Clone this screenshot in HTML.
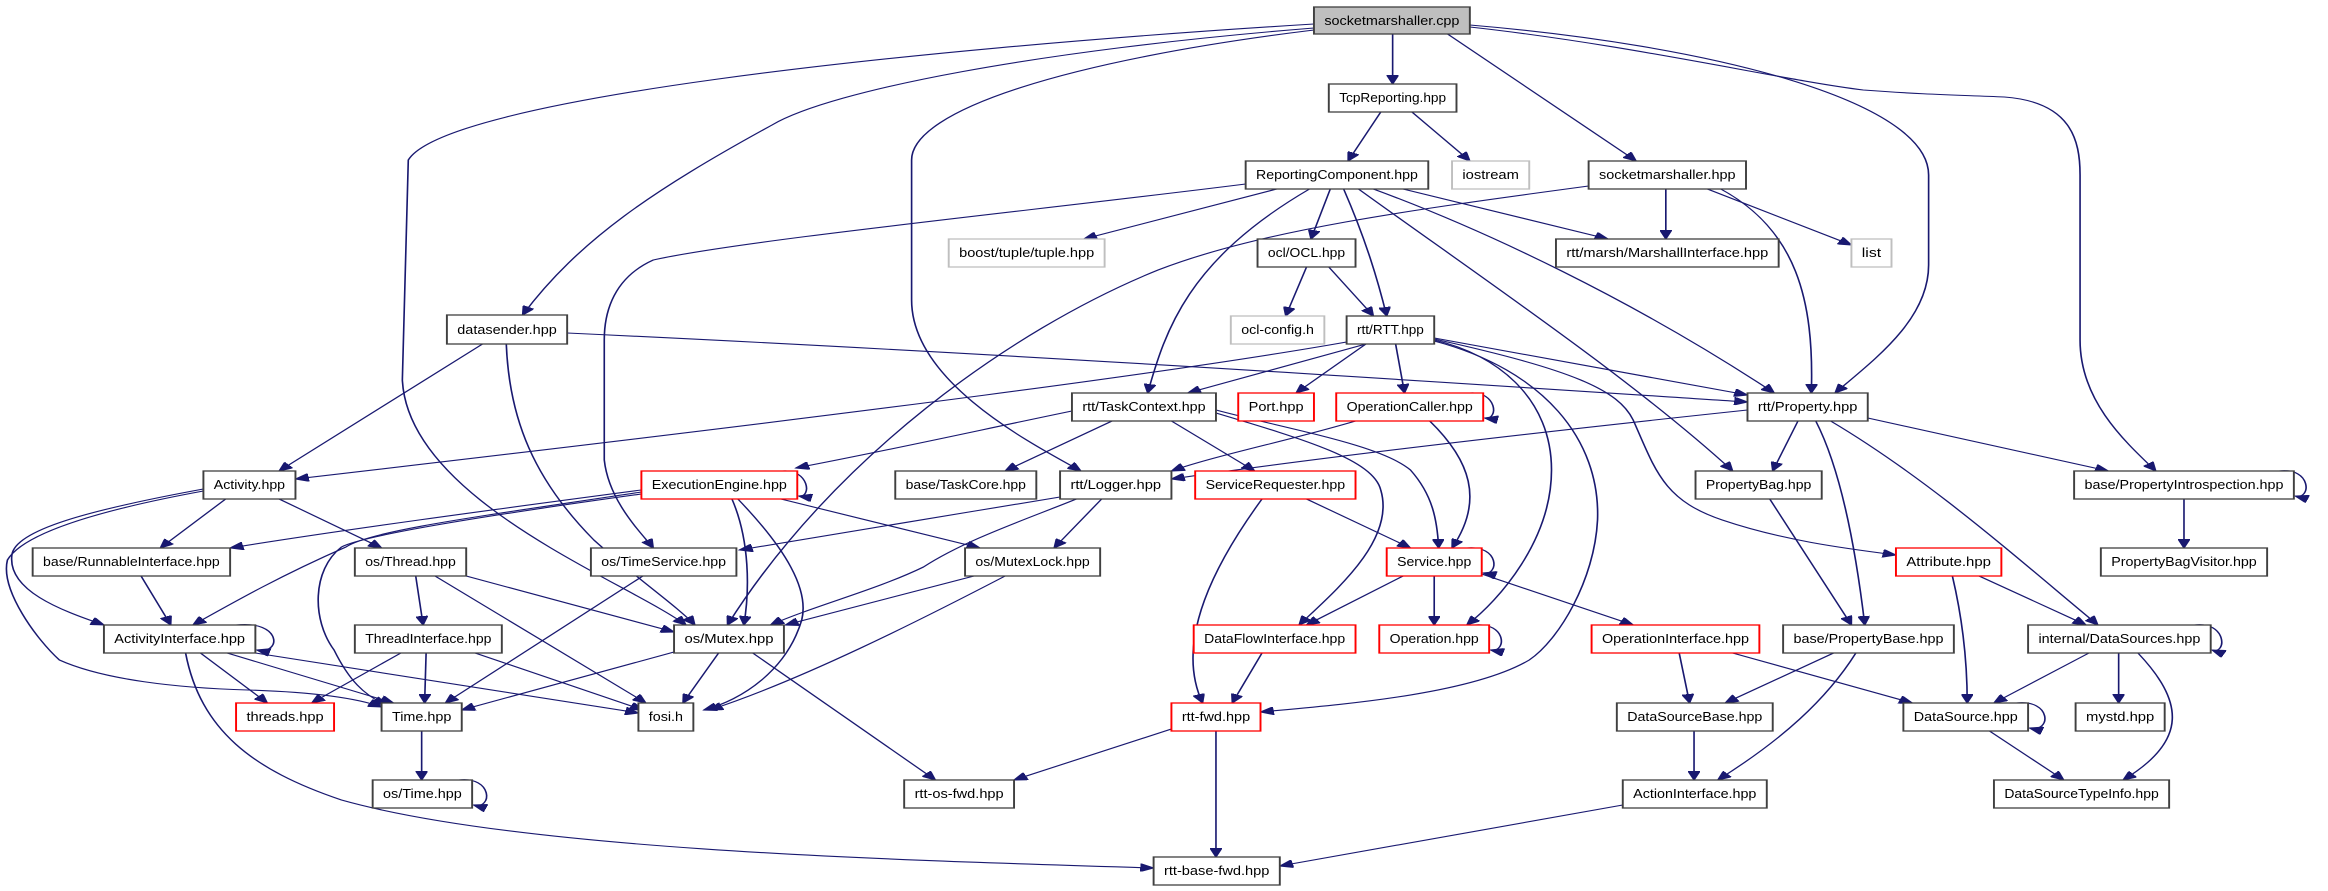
<!DOCTYPE html>
<html><head><meta charset="utf-8"><style>
html,body{margin:0;padding:0;background:#fff;}
svg{display:block;}
text{font-family:"Liberation Sans",sans-serif;font-size:13px;fill:#000;}
.e{fill:none;stroke:#191970;stroke-width:1.1;}
.n{fill:#fff;stroke:#404040;stroke-width:1.3;}
.r{fill:#fff;stroke:#ff0000;stroke-width:1.3;}
.g{fill:#fff;stroke:#bfbfbf;stroke-width:1.3;}
.s{fill:#bfbfbf;stroke:#404040;stroke-width:1.3;}
</style></head><body>
<svg width="2328" height="891" viewBox="0 0 1568 891" preserveAspectRatio="none" xmlns="http://www.w3.org/2000/svg">
<defs>
<marker id="a" markerUnits="userSpaceOnUse" markerWidth="10" markerHeight="8" refX="9" refY="4" orient="auto">
<path d="M0,0 L9,4 L0,8 z" fill="#191970" stroke="#191970"/>
</marker>
</defs>
<g marker-end="url(#a)">
<!-- socketmarshaller.cpp -->
<path class="e" d="M938,34 L938,84"/>
<path class="e" d="M885,28 C700,50 560,90 520,125 C440,190 390,240 352,315"/>
<path class="e" d="M885,24 C600,50 300,100 275,160 L271,380 C275,500 420,580 462,625"/>
<path class="e" d="M885,30 C720,60 614,110 614,160 L614,300 C614,380 690,440 728,471"/>
<path class="e" d="M975,34 L1102,161"/>
<path class="e" d="M990,25 C1150,45 1299,100 1299,175 L1299,265 C1299,320 1262,360 1236,393"/>
<path class="e" d="M990,27 C1100,45 1200,80 1255,90 C1300,95 1320,95 1350,97 C1395,102 1401,140 1401,175 L1401,340 C1401,400 1430,440 1452,471"/>
<!-- TcpReporting -->
<path class="e" d="M930,112 L908,161"/>
<path class="e" d="M951,112 L990,161"/>
<!-- ReportingComponent -->
<path class="e" d="M860,189 L730,239"/>
<path class="e" d="M896,189 L883,239"/>
<path class="e" d="M905,189 C920,240 928,280 934,316"/>
<path class="e" d="M882,189 C800,260 785,330 773,393"/>
<path class="e" d="M839,184 C700,210 500,240 440,260 C410,280 407,320 407,340 L407,460 C410,500 430,530 440,548"/>
<path class="e" d="M945,189 L1083,239"/>
<path class="e" d="M925,189 C1000,230 1100,300 1195,393"/>
<path class="e" d="M915,189 C1000,280 1100,380 1167,471"/>
<!-- socketmarshaller.hpp -->
<path class="e" d="M1122,189 L1122,239"/>
<path class="e" d="M1150,189 L1247,245"/>
<path class="e" d="M1159,189 C1210,230 1222,300 1220,393"/>
<path class="e" d="M1070,186 C950,210 850,230 780,270 C680,330 560,460 490,625"/>
<!-- ocl -->
<path class="e" d="M880,267 L866,316"/>
<path class="e" d="M895,267 L925,316"/>
<!-- datasender -->
<path class="e" d="M325,344 L188,471"/>
<path class="e" d="M341,344 C343,420 360,480 400,540 C430,580 455,605 468,625"/>
<path class="e" d="M382,333 C700,355 1000,385 1177,402"/>
<!-- RTT -->
<path class="e" d="M907,342 C800,370 600,410 199,479"/>
<path class="e" d="M920,344 L800,393"/>
<path class="e" d="M920,344 L873,393"/>
<path class="e" d="M940,344 L946,393"/>
<path class="e" d="M966,338 L1177,395"/>
<path class="e" d="M966,340 C1010,355 1045,400 1045,470 C1045,540 1010,600 988,625"/>
<path class="e" d="M966,341 C1040,370 1078,440 1076,520 C1074,580 1050,640 1030,660 C990,695 900,705 849,712"/>
<path class="e" d="M966,339 C1060,370 1090,390 1100,420 C1115,470 1120,500 1160,520 C1200,540 1240,548 1277,555"/>
<!-- TaskContext -->
<path class="e" d="M722,411 C660,430 600,450 536,468"/>
<path class="e" d="M749,421 L677,471"/>
<path class="e" d="M789,421 L845,471"/>
<path class="e" d="M819,410 C870,430 930,445 950,470 C965,495 968,520 969,548"/>
<path class="e" d="M819,413 C880,440 925,460 930,490 C940,540 900,590 875,625"/>
<!-- OperationCaller -->
<path class="e" d="M913,421 C870,440 820,455 789,471"/>
<path class="e" d="M963,421 C990,460 1000,500 978,548"/>
<!-- Property -->
<path class="e" d="M1177,410 C1050,430 900,455 789,479"/>
<path class="e" d="M1211,421 L1194,471"/>
<path class="e" d="M1223,421 C1240,470 1250,550 1256,625"/>
<path class="e" d="M1233,421 C1300,480 1360,560 1413,625"/>
<path class="e" d="M1258,418 L1420,471"/>
<!-- PropertyBag -->
<path class="e" d="M1192,499 L1247,625"/>
<!-- PropertyIntrospection -->
<path class="e" d="M1471,499 L1471,548"/>
<!-- ServiceRequester -->
<path class="e" d="M850,499 C820,560 790,640 810,703"/>
<path class="e" d="M880,499 L950,548"/>
<!-- Service -->
<path class="e" d="M945,576 L880,625"/>
<path class="e" d="M966,576 L966,625"/>
<path class="e" d="M998,574 L1100,625"/>
<!-- DataFlowInterface -->
<path class="e" d="M850,653 L830,703"/>
<!-- rtt-fwd -->
<path class="e" d="M789,729 L683,780"/>
<path class="e" d="M819,731 L819,857"/>
<!-- Logger -->
<path class="e" d="M714,497 C640,515 560,535 498,550"/>
<path class="e" d="M742,499 L710,548"/>
<path class="e" d="M725,499 C690,520 650,540 622,567 C590,590 550,605 519,625"/>
<!-- ExecutionEngine -->
<path class="e" d="M493,499 C505,540 505,590 501,625"/>
<path class="e" d="M497,499 C530,550 545,590 540,620 C530,670 500,700 474,710"/>
<path class="e" d="M526,499 L660,548"/>
<path class="e" d="M432,490 C330,510 230,530 155,548"/>
<path class="e" d="M432,492 C330,515 250,530 233,547 C190,575 160,600 130,625"/>
<path class="e" d="M432,494 C330,515 245,535 230,547 C210,570 210,620 225,650 C235,680 245,695 260,705"/>
<!-- MutexLock -->
<path class="e" d="M656,576 L529,625"/>
<path class="e" d="M677,576 C620,620 540,680 478,710"/>
<!-- os/Mutex -->
<path class="e" d="M484,653 L460,703"/>
<path class="e" d="M507,653 L630,780"/>
<path class="e" d="M454,652 L311,710"/>
<!-- TimeService -->
<path class="e" d="M433,576 L300,703"/>
<!-- os/Thread -->
<path class="e" d="M314,576 L454,632"/>
<path class="e" d="M293,576 L435,703"/>
<path class="e" d="M280,576 L285,625"/>
<!-- ThreadInterface -->
<path class="e" d="M270,653 L210,703"/>
<path class="e" d="M287,653 L286,703"/>
<path class="e" d="M320,653 L433,710"/>
<!-- ActivityInterface -->
<path class="e" d="M135,653 L180,703"/>
<path class="e" d="M153,653 L265,703"/>
<path class="e" d="M172,653 L430,713"/>
<path class="e" d="M125,653 C135,730 170,770 230,800 C350,850 600,860 777,868"/>
<!-- Activity -->
<path class="e" d="M152,499 L108,548"/>
<path class="e" d="M188,499 L257,548"/>
<path class="e" d="M137,489 C60,510 10,530 8,555 C5,590 40,610 70,625"/>
<path class="e" d="M137,491 C60,512 15,535 5,560 C0,590 25,640 40,660 C70,680 120,688 167,690 C210,692 240,698 257,707"/>
<!-- RunnableInterface -->
<path class="e" d="M95,576 L115,625"/>
<!-- Time -->
<path class="e" d="M284,731 L284,780"/>
<!-- right bottom -->
<path class="e" d="M1093,805 L862,866"/>
<path class="e" d="M1131,653 L1138,703"/>
<path class="e" d="M1167,653 L1288,703"/>
<path class="e" d="M1235,653 L1162,703"/>
<path class="e" d="M1250,653 C1230,700 1200,740 1157,780"/>
<path class="e" d="M1141,731 L1141,780"/>
<path class="e" d="M1315,576 C1322,620 1325,660 1325,703"/>
<path class="e" d="M1333,576 L1405,625"/>
<path class="e" d="M1407,653 L1343,703"/>
<path class="e" d="M1427,653 L1427,703"/>
<path class="e" d="M1440,653 C1470,700 1475,740 1430,780"/>
<path class="e" d="M1340,731 L1390,780"/>
<!-- self loops -->
<path class="e" d="M990,393 C1008,391 1010,420 1000,418"/>
<path class="e" d="M527,471 C545,469 547,498 538,496"/>
<path class="e" d="M159,625 C190,620 190,655 173,650"/>
<path class="e" d="M988,548 C1010,545 1010,576 999,573"/>
<path class="e" d="M993,625 C1015,622 1015,653 1004,650"/>
<path class="e" d="M309,780 C332,776 332,810 319,805"/>
<path class="e" d="M1535,471 C1557,467 1557,500 1546,496"/>
<path class="e" d="M1478,625 C1500,621 1500,655 1490,650"/>
<path class="e" d="M1358,703 C1382,699 1382,733 1367,728"/>
</g>
<!-- nodes -->
<g>
<rect class="s" x="885" y="7" width="105" height="27"/><text x="937.5" y="25" text-anchor="middle" textLength="91" lengthAdjust="spacingAndGlyphs">socketmarshaller.cpp</text>
<rect class="n" x="895" y="84" width="86" height="28"/><text x="938" y="102" text-anchor="middle" textLength="72" lengthAdjust="spacingAndGlyphs">TcpReporting.hpp</text>
<rect class="n" x="839" y="161" width="123" height="28"/><text x="900.5" y="179" text-anchor="middle" textLength="109" lengthAdjust="spacingAndGlyphs">ReportingComponent.hpp</text>
<rect class="g" x="978" y="161" width="52" height="28"/><text x="1004" y="179" text-anchor="middle" textLength="38" lengthAdjust="spacingAndGlyphs">iostream</text>
<rect class="n" x="1070" y="161" width="106" height="28"/><text x="1123" y="179" text-anchor="middle" textLength="92" lengthAdjust="spacingAndGlyphs">socketmarshaller.hpp</text>
<rect class="g" x="639" y="239" width="105" height="28"/><text x="691.5" y="257" text-anchor="middle" textLength="91" lengthAdjust="spacingAndGlyphs">boost/tuple/tuple.hpp</text>
<rect class="n" x="847" y="239" width="66" height="28"/><text x="880" y="257" text-anchor="middle" textLength="52" lengthAdjust="spacingAndGlyphs">ocl/OCL.hpp</text>
<rect class="n" x="1048" y="239" width="150" height="28"/><text x="1123" y="257" text-anchor="middle" textLength="136" lengthAdjust="spacingAndGlyphs">rtt/marsh/MarshallInterface.hpp</text>
<rect class="g" x="1247" y="239" width="27" height="28"/><text x="1260.5" y="257" text-anchor="middle" textLength="13" lengthAdjust="spacingAndGlyphs">list</text>
<rect class="n" x="301" y="315" width="81" height="29"/><text x="341.5" y="334" text-anchor="middle" textLength="67" lengthAdjust="spacingAndGlyphs">datasender.hpp</text>
<rect class="g" x="829" y="316" width="63" height="28"/><text x="860.5" y="334" text-anchor="middle" textLength="49" lengthAdjust="spacingAndGlyphs">ocl-config.h</text>
<rect class="n" x="907" y="316" width="59" height="28"/><text x="936.5" y="334" text-anchor="middle" textLength="45" lengthAdjust="spacingAndGlyphs">rtt/RTT.hpp</text>
<rect class="n" x="722" y="393" width="97" height="28"/><text x="770.5" y="411" text-anchor="middle" textLength="83" lengthAdjust="spacingAndGlyphs">rtt/TaskContext.hpp</text>
<rect class="r" x="834" y="393" width="51" height="28"/><text x="859.5" y="411" text-anchor="middle" textLength="37" lengthAdjust="spacingAndGlyphs">Port.hpp</text>
<rect class="r" x="900" y="393" width="99" height="28"/><text x="949.5" y="411" text-anchor="middle" textLength="85" lengthAdjust="spacingAndGlyphs">OperationCaller.hpp</text>
<rect class="n" x="1177" y="393" width="81" height="28"/><text x="1217.5" y="411" text-anchor="middle" textLength="67" lengthAdjust="spacingAndGlyphs">rtt/Property.hpp</text>
<rect class="n" x="137" y="471" width="62" height="28"/><text x="168" y="489" text-anchor="middle" textLength="48" lengthAdjust="spacingAndGlyphs">Activity.hpp</text>
<rect class="r" x="432" y="471" width="105" height="28"/><text x="484.5" y="489" text-anchor="middle" textLength="91" lengthAdjust="spacingAndGlyphs">ExecutionEngine.hpp</text>
<rect class="n" x="603" y="471" width="95" height="28"/><text x="650.5" y="489" text-anchor="middle" textLength="81" lengthAdjust="spacingAndGlyphs">base/TaskCore.hpp</text>
<rect class="n" x="714" y="471" width="75" height="28"/><text x="751.5" y="489" text-anchor="middle" textLength="61" lengthAdjust="spacingAndGlyphs">rtt/Logger.hpp</text>
<rect class="r" x="805" y="471" width="108" height="28"/><text x="859" y="489" text-anchor="middle" textLength="94" lengthAdjust="spacingAndGlyphs">ServiceRequester.hpp</text>
<rect class="n" x="1142" y="471" width="85" height="28"/><text x="1184.5" y="489" text-anchor="middle" textLength="71" lengthAdjust="spacingAndGlyphs">PropertyBag.hpp</text>
<rect class="n" x="1397" y="471" width="148" height="28"/><text x="1471" y="489" text-anchor="middle" textLength="134" lengthAdjust="spacingAndGlyphs">base/PropertyIntrospection.hpp</text>
<rect class="n" x="22" y="548" width="133" height="28"/><text x="88.5" y="566" text-anchor="middle" textLength="119" lengthAdjust="spacingAndGlyphs">base/RunnableInterface.hpp</text>
<rect class="n" x="239" y="548" width="75" height="28"/><text x="276.5" y="566" text-anchor="middle" textLength="61" lengthAdjust="spacingAndGlyphs">os/Thread.hpp</text>
<rect class="n" x="398" y="548" width="98" height="28"/><text x="447" y="566" text-anchor="middle" textLength="84" lengthAdjust="spacingAndGlyphs">os/TimeService.hpp</text>
<rect class="n" x="650" y="548" width="91" height="28"/><text x="695.5" y="566" text-anchor="middle" textLength="77" lengthAdjust="spacingAndGlyphs">os/MutexLock.hpp</text>
<rect class="r" x="934" y="548" width="64" height="28"/><text x="966" y="566" text-anchor="middle" textLength="50" lengthAdjust="spacingAndGlyphs">Service.hpp</text>
<rect class="r" x="1277" y="548" width="71" height="28"/><text x="1312.5" y="566" text-anchor="middle" textLength="57" lengthAdjust="spacingAndGlyphs">Attribute.hpp</text>
<rect class="n" x="1415" y="548" width="112" height="28"/><text x="1471" y="566" text-anchor="middle" textLength="98" lengthAdjust="spacingAndGlyphs">PropertyBagVisitor.hpp</text>
<rect class="n" x="70" y="625" width="102" height="28"/><text x="121" y="643" text-anchor="middle" textLength="88" lengthAdjust="spacingAndGlyphs">ActivityInterface.hpp</text>
<rect class="n" x="239" y="625" width="99" height="28"/><text x="288.5" y="643" text-anchor="middle" textLength="85" lengthAdjust="spacingAndGlyphs">ThreadInterface.hpp</text>
<rect class="n" x="454" y="625" width="74" height="28"/><text x="491" y="643" text-anchor="middle" textLength="60" lengthAdjust="spacingAndGlyphs">os/Mutex.hpp</text>
<rect class="r" x="804" y="625" width="109" height="28"/><text x="858.5" y="643" text-anchor="middle" textLength="95" lengthAdjust="spacingAndGlyphs">DataFlowInterface.hpp</text>
<rect class="r" x="929" y="625" width="74" height="28"/><text x="966" y="643" text-anchor="middle" textLength="60" lengthAdjust="spacingAndGlyphs">Operation.hpp</text>
<rect class="r" x="1072" y="625" width="113" height="28"/><text x="1128.5" y="643" text-anchor="middle" textLength="99" lengthAdjust="spacingAndGlyphs">OperationInterface.hpp</text>
<rect class="n" x="1201" y="625" width="115" height="28"/><text x="1258.5" y="643" text-anchor="middle" textLength="101" lengthAdjust="spacingAndGlyphs">base/PropertyBase.hpp</text>
<rect class="n" x="1366" y="625" width="123" height="28"/><text x="1427.5" y="643" text-anchor="middle" textLength="109" lengthAdjust="spacingAndGlyphs">internal/DataSources.hpp</text>
<rect class="r" x="159" y="703" width="66" height="28"/><text x="192" y="721" text-anchor="middle" textLength="52" lengthAdjust="spacingAndGlyphs">threads.hpp</text>
<rect class="n" x="257" y="703" width="54" height="28"/><text x="284" y="721" text-anchor="middle" textLength="40" lengthAdjust="spacingAndGlyphs">Time.hpp</text>
<rect class="n" x="430" y="703" width="37" height="28"/><text x="448.5" y="721" text-anchor="middle" textLength="23" lengthAdjust="spacingAndGlyphs">fosi.h</text>
<rect class="r" x="789" y="703" width="60" height="28"/><text x="819" y="721" text-anchor="middle" textLength="46" lengthAdjust="spacingAndGlyphs">rtt-fwd.hpp</text>
<rect class="n" x="1089" y="703" width="105" height="28"/><text x="1141.5" y="721" text-anchor="middle" textLength="91" lengthAdjust="spacingAndGlyphs">DataSourceBase.hpp</text>
<rect class="n" x="1282" y="703" width="84" height="28"/><text x="1324" y="721" text-anchor="middle" textLength="70" lengthAdjust="spacingAndGlyphs">DataSource.hpp</text>
<rect class="n" x="1398" y="703" width="60" height="28"/><text x="1428" y="721" text-anchor="middle" textLength="46" lengthAdjust="spacingAndGlyphs">mystd.hpp</text>
<rect class="n" x="251" y="780" width="67" height="28"/><text x="284.5" y="798" text-anchor="middle" textLength="53" lengthAdjust="spacingAndGlyphs">os/Time.hpp</text>
<rect class="n" x="609" y="780" width="74" height="28"/><text x="646" y="798" text-anchor="middle" textLength="60" lengthAdjust="spacingAndGlyphs">rtt-os-fwd.hpp</text>
<rect class="n" x="1093" y="780" width="97" height="28"/><text x="1141.5" y="798" text-anchor="middle" textLength="83" lengthAdjust="spacingAndGlyphs">ActionInterface.hpp</text>
<rect class="n" x="1343" y="780" width="118" height="28"/><text x="1402" y="798" text-anchor="middle" textLength="104" lengthAdjust="spacingAndGlyphs">DataSourceTypeInfo.hpp</text>
<rect class="n" x="777" y="857" width="85" height="28"/><text x="819.5" y="875" text-anchor="middle" textLength="71" lengthAdjust="spacingAndGlyphs">rtt-base-fwd.hpp</text>
</g>
</svg>
</body></html>
